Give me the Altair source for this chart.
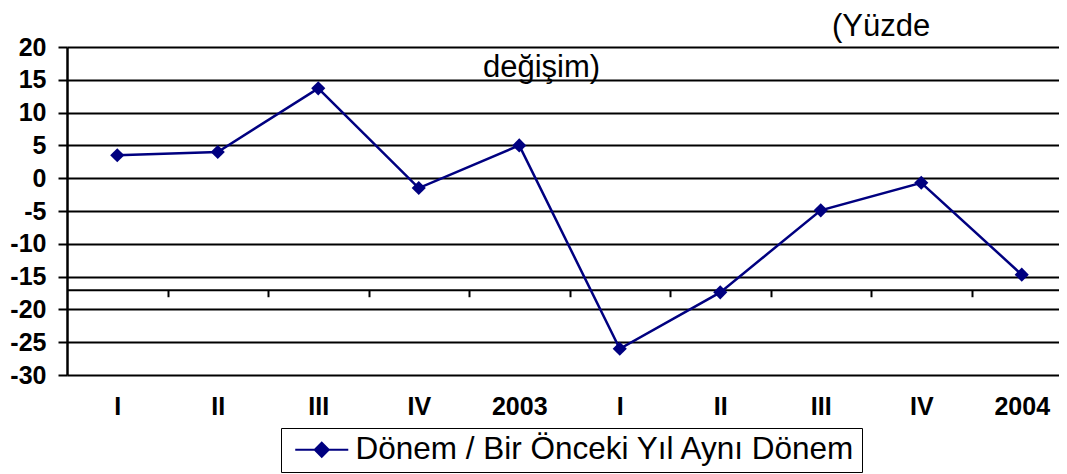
import json
import altair as alt
import pandas as pd

# ---- data ----
categories = ["I", "II", "III", "IV", "2003", "I", "II", "III", "IV", "2004"]
values = [3.5, 4.0, 13.7, -1.5, 5.0, -26.0, -17.4, -4.9, -0.7, -14.7]
series_name = "Dönem / Bir Önceki Yıl Aynı Dönem"
y_ticks = [-30, -25, -20, -15, -10, -5, 0, 5, 10, 15, 20]
y_domain = [-30, 20]
axis_crossing = -17
annot_1 = "(Yüzde"
annot_2 = "değişim)"

# ---- layout ----
W, H = 992, 328
step = 100.5
x_max = -0.5 + W / step
boundaries = [i + 0.5 for i in range(len(categories) - 1)]
cross_offset = -(axis_crossing - y_domain[0]) / (y_domain[1] - y_domain[0]) * H

FONT = "Liberation Sans"
NAVY = "#000080"

df = pd.DataFrame({"idx": list(range(len(categories))), "value": values,
                   "series": [series_name] * len(values)})

xscale = alt.Scale(domain=[-0.5, x_max], nice=False, zero=False)
yenc = alt.Y("value:Q",
             scale=alt.Scale(domain=y_domain, nice=False, zero=False),
             axis=alt.Axis(values=y_ticks, title=None, grid=True, gridColor="black",
                           gridWidth=2, gridOpacity=1, domain=True, domainColor="black",
                           domainWidth=2.5, ticks=True, tickColor="black", tickSize=9,
                           tickWidth=2, labelFont=FONT, labelFontWeight="bold",
                           labelFontSize=25, labelColor="black", labelPadding=12,
                           labelExpr="'' + datum.value",
                           labelOverlap=False, labelFlush=False))

label_expr = json.dumps(categories) + "[datum.value]"

line = alt.Chart(df).mark_line(color=NAVY, strokeWidth=2.5).encode(
    x=alt.X("idx:Q", scale=xscale,
            axis=alt.Axis(values=list(range(len(categories))), labelExpr=label_expr,
                          ticks=False, tickSize=0, domain=False, grid=False, title=None,
                          orient="bottom", labelFont=FONT, labelFontWeight="bold",
                          labelFontSize=25, labelColor="black", labelPadding=19,
                          labelFlush=False, labelOverlap=False)),
    y=yenc,
)

sym_path = "M-2.5,0H2.5M0,-0.66L0.66,0L0,0.66L-0.66,0Z"
points = alt.Chart(df).mark_point(shape="diamond", filled=True, size=200, opacity=1).encode(
    x=alt.X("idx:Q", scale=xscale,
            axis=alt.Axis(values=boundaries, labels=False, ticks=True, tickSize=7,
                          tickWidth=2, tickColor="black", domain=True, domainColor="black",
                          domainWidth=2, grid=False, offset=cross_offset, title=None,
                          orient="bottom")),
    y=yenc,
    color=alt.Color("series:N", scale=alt.Scale(range=[NAVY]),
                    legend=alt.Legend(title=None, orient="none", legendX=214, legendY=381,
                                      symbolType=sym_path, symbolSize=450,
                                      symbolStrokeWidth=2, symbolFillColor=NAVY,
                                      symbolStrokeColor=NAVY, symbolOffset=19,
                                      labelFont=FONT, labelFontSize=31.5, labelColor="black",
                                      labelOffset=18, padding=6, strokeColor="black",
                                      fillColor="white", labelLimit=1000)),
)

ann1 = alt.Chart(pd.DataFrame({"t": [annot_1]})).mark_text(
    font=FONT, fontSize=31, color="black", align="left", baseline="alphabetic"
).encode(text="t:N", x=alt.value(765), y=alt.value(-11))
ann2 = alt.Chart(pd.DataFrame({"t": [annot_2]})).mark_text(
    font=FONT, fontSize=31, color="black", align="left", baseline="alphabetic"
).encode(text="t:N", x=alt.value(416), y=alt.value(30))

chart = alt.layer(line, points, ann1, ann2).resolve_axis(x="independent").properties(
    width=W, height=H,
    autosize=alt.AutoSizeParams(type="none"),
    padding={"left": 59, "top": 39, "right": 0, "bottom": 99},
).configure_view(stroke=None).configure_legend(strokeWidth=2).configure(font=FONT)

chart.save("out.html", embed_options={"renderer": "svg", "actions": False})
